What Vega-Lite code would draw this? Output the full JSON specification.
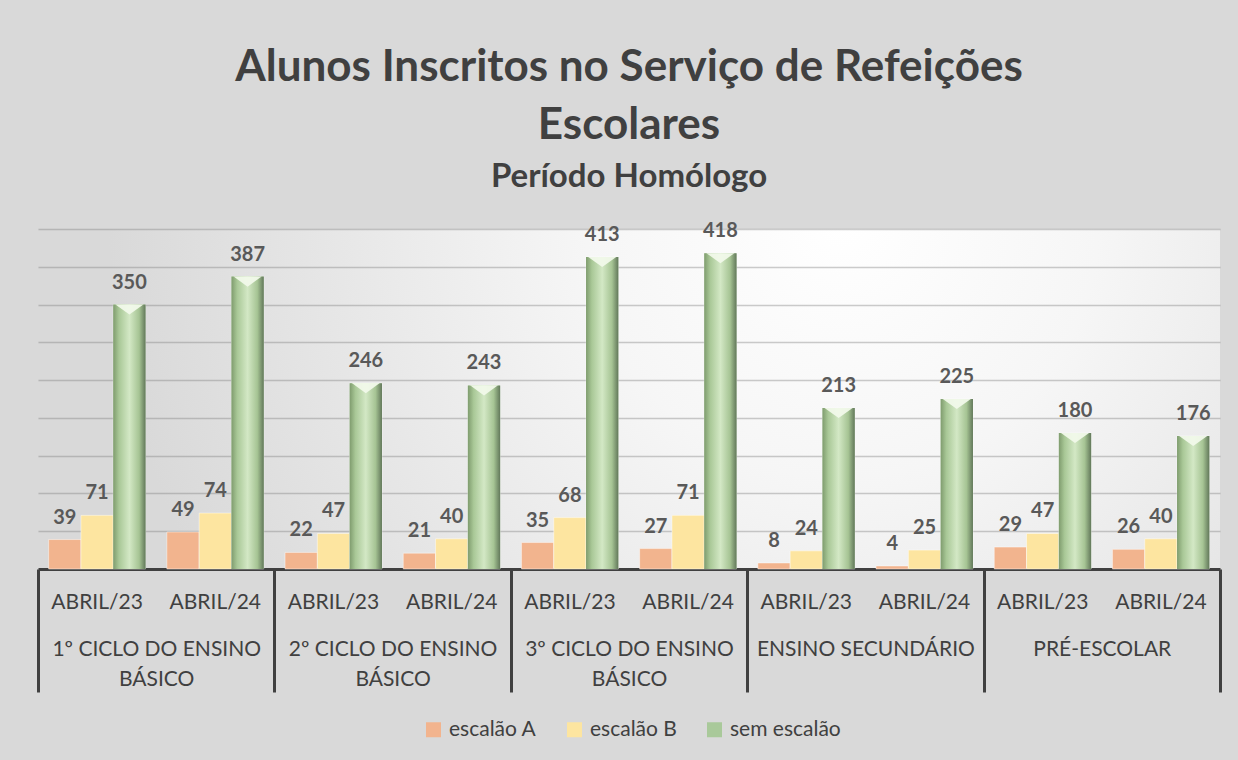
{
  "$schema": "https://vega.github.io/schema/vega-lite/v6.json",
  "width": 1182,
  "height": 340,
  "autosize": {"type": "none"},
  "padding": {"left": 38, "top": 229, "right": 18, "bottom": 191},
  "background": "#d9d9d9",
  "config": {
    "font": "Lato",
    "view": {"stroke": null, "fill": {"gradient": "radial", "x1": 0.68, "y1": 0.35, "r1": 0, "x2": 0.68, "y2": 0.35, "r2": 0.62, "stops": [{"offset": 0, "color": "#ffffff"}, {"offset": 0.35, "color": "#f6f6f6"}, {"offset": 1, "color": "#d9d9d9"}]}}
  },
  "title": {
    "text": ["Alunos Inscritos no Serviço de Refeições", "Escolares"],
    "subtitle": "Período Homólogo",
    "font": "Lato", "fontSize": 44, "fontWeight": "bold", "color": "#404040", "lineHeight": 58,
    "subtitleFont": "Lato", "subtitleFontSize": 33, "subtitleFontWeight": "bold", "subtitleColor": "#404040",
    "subtitlePadding": 13, "offset": 27, "anchor": "middle"
  },
  "data": {"values": [
    {"categoria": "1º CICLO DO ENSINO BÁSICO", "periodo": "ABRIL/23", "slot": "1º CICLO DO ENSINO BÁSICO|ABRIL/23", "serie": "escalão A", "valor": 39},
    {"categoria": "1º CICLO DO ENSINO BÁSICO", "periodo": "ABRIL/23", "slot": "1º CICLO DO ENSINO BÁSICO|ABRIL/23", "serie": "escalão B", "valor": 71},
    {"categoria": "1º CICLO DO ENSINO BÁSICO", "periodo": "ABRIL/23", "slot": "1º CICLO DO ENSINO BÁSICO|ABRIL/23", "serie": "sem escalão", "valor": 350},
    {"categoria": "1º CICLO DO ENSINO BÁSICO", "periodo": "ABRIL/24", "slot": "1º CICLO DO ENSINO BÁSICO|ABRIL/24", "serie": "escalão A", "valor": 49},
    {"categoria": "1º CICLO DO ENSINO BÁSICO", "periodo": "ABRIL/24", "slot": "1º CICLO DO ENSINO BÁSICO|ABRIL/24", "serie": "escalão B", "valor": 74},
    {"categoria": "1º CICLO DO ENSINO BÁSICO", "periodo": "ABRIL/24", "slot": "1º CICLO DO ENSINO BÁSICO|ABRIL/24", "serie": "sem escalão", "valor": 387},
    {"categoria": "2º CICLO DO ENSINO BÁSICO", "periodo": "ABRIL/23", "slot": "2º CICLO DO ENSINO BÁSICO|ABRIL/23", "serie": "escalão A", "valor": 22},
    {"categoria": "2º CICLO DO ENSINO BÁSICO", "periodo": "ABRIL/23", "slot": "2º CICLO DO ENSINO BÁSICO|ABRIL/23", "serie": "escalão B", "valor": 47},
    {"categoria": "2º CICLO DO ENSINO BÁSICO", "periodo": "ABRIL/23", "slot": "2º CICLO DO ENSINO BÁSICO|ABRIL/23", "serie": "sem escalão", "valor": 246},
    {"categoria": "2º CICLO DO ENSINO BÁSICO", "periodo": "ABRIL/24", "slot": "2º CICLO DO ENSINO BÁSICO|ABRIL/24", "serie": "escalão A", "valor": 21},
    {"categoria": "2º CICLO DO ENSINO BÁSICO", "periodo": "ABRIL/24", "slot": "2º CICLO DO ENSINO BÁSICO|ABRIL/24", "serie": "escalão B", "valor": 40},
    {"categoria": "2º CICLO DO ENSINO BÁSICO", "periodo": "ABRIL/24", "slot": "2º CICLO DO ENSINO BÁSICO|ABRIL/24", "serie": "sem escalão", "valor": 243},
    {"categoria": "3º CICLO DO ENSINO BÁSICO", "periodo": "ABRIL/23", "slot": "3º CICLO DO ENSINO BÁSICO|ABRIL/23", "serie": "escalão A", "valor": 35},
    {"categoria": "3º CICLO DO ENSINO BÁSICO", "periodo": "ABRIL/23", "slot": "3º CICLO DO ENSINO BÁSICO|ABRIL/23", "serie": "escalão B", "valor": 68},
    {"categoria": "3º CICLO DO ENSINO BÁSICO", "periodo": "ABRIL/23", "slot": "3º CICLO DO ENSINO BÁSICO|ABRIL/23", "serie": "sem escalão", "valor": 413},
    {"categoria": "3º CICLO DO ENSINO BÁSICO", "periodo": "ABRIL/24", "slot": "3º CICLO DO ENSINO BÁSICO|ABRIL/24", "serie": "escalão A", "valor": 27},
    {"categoria": "3º CICLO DO ENSINO BÁSICO", "periodo": "ABRIL/24", "slot": "3º CICLO DO ENSINO BÁSICO|ABRIL/24", "serie": "escalão B", "valor": 71},
    {"categoria": "3º CICLO DO ENSINO BÁSICO", "periodo": "ABRIL/24", "slot": "3º CICLO DO ENSINO BÁSICO|ABRIL/24", "serie": "sem escalão", "valor": 418},
    {"categoria": "ENSINO SECUNDÁRIO", "periodo": "ABRIL/23", "slot": "ENSINO SECUNDÁRIO|ABRIL/23", "serie": "escalão A", "valor": 8},
    {"categoria": "ENSINO SECUNDÁRIO", "periodo": "ABRIL/23", "slot": "ENSINO SECUNDÁRIO|ABRIL/23", "serie": "escalão B", "valor": 24},
    {"categoria": "ENSINO SECUNDÁRIO", "periodo": "ABRIL/23", "slot": "ENSINO SECUNDÁRIO|ABRIL/23", "serie": "sem escalão", "valor": 213},
    {"categoria": "ENSINO SECUNDÁRIO", "periodo": "ABRIL/24", "slot": "ENSINO SECUNDÁRIO|ABRIL/24", "serie": "escalão A", "valor": 4},
    {"categoria": "ENSINO SECUNDÁRIO", "periodo": "ABRIL/24", "slot": "ENSINO SECUNDÁRIO|ABRIL/24", "serie": "escalão B", "valor": 25},
    {"categoria": "ENSINO SECUNDÁRIO", "periodo": "ABRIL/24", "slot": "ENSINO SECUNDÁRIO|ABRIL/24", "serie": "sem escalão", "valor": 225},
    {"categoria": "PRÉ-ESCOLAR", "periodo": "ABRIL/23", "slot": "PRÉ-ESCOLAR|ABRIL/23", "serie": "escalão A", "valor": 29},
    {"categoria": "PRÉ-ESCOLAR", "periodo": "ABRIL/23", "slot": "PRÉ-ESCOLAR|ABRIL/23", "serie": "escalão B", "valor": 47},
    {"categoria": "PRÉ-ESCOLAR", "periodo": "ABRIL/23", "slot": "PRÉ-ESCOLAR|ABRIL/23", "serie": "sem escalão", "valor": 180},
    {"categoria": "PRÉ-ESCOLAR", "periodo": "ABRIL/24", "slot": "PRÉ-ESCOLAR|ABRIL/24", "serie": "escalão A", "valor": 26},
    {"categoria": "PRÉ-ESCOLAR", "periodo": "ABRIL/24", "slot": "PRÉ-ESCOLAR|ABRIL/24", "serie": "escalão B", "valor": 40},
    {"categoria": "PRÉ-ESCOLAR", "periodo": "ABRIL/24", "slot": "PRÉ-ESCOLAR|ABRIL/24", "serie": "sem escalão", "valor": 176}
  ]},
  "layer": [
    {
      "layer": [
        {
          "mark": {"type": "bar", "stroke": "#ffffff", "strokeOpacity": 0.45, "strokeWidth": 1},
          "encoding": {
            "x": {"field": "slot", "type": "nominal", "sort": null,
              "scale": {"paddingInner": 0.18, "paddingOuter": 0.09},
              "axis": {"title": null, "orient": "bottom", "labelExpr": "split(datum.label, '|')[1]", "ticks": false, "tickSize": 0, "labelPadding": 22, "labelFontSize": 21, "labelFont": "Lato", "labelColor": "#404040", "labelAngle": 0, "labelLimit": 0, "domainColor": "#404040", "domainWidth": 3, "grid": false}},
            "xOffset": {"field": "serie", "type": "nominal", "sort": ["escalão A", "escalão B", "sem escalão"], "scale": {"paddingInner": 0, "paddingOuter": 0}},
            "y": {"field": "valor", "type": "quantitative",
              "scale": {"domain": [0, 450], "nice": false},
              "axis": {"title": null, "labels": false, "ticks": false, "domain": false, "grid": true, "gridColor": "#7f7f7f", "gridOpacity": 0.4, "gridWidth": 1.5, "values": [50, 100, 150, 200, 250, 300, 350, 400, 450]}},
            "color": {"field": "serie", "type": "nominal", "sort": ["escalão A", "escalão B", "sem escalão"],
              "scale": {"domain": ["escalão A", "escalão B", "sem escalão"], "range": ["#f2b48e", "#fde5a0", "#a9c99a"]},
              "legend": {"title": null, "orient": "none", "legendX": 385, "legendY": 490, "direction": "horizontal", "symbolType": "square", "symbolSize": 225, "symbolStrokeWidth": 0, "labelFontSize": 21, "labelFont": "Lato", "labelColor": "#404040", "columnPadding": 27, "labelOffset": 5}}
          }
        },
        {
          "transform": [{"filter": "datum.serie === 'sem escalão'"}],
          "mark": {"type": "bar", "fill": {"gradient": "linear", "x1": 0, "y1": 0, "x2": 1, "y2": 0, "stops": [{"offset": 0, "color": "#7f9c6e"}, {"offset": 0.18, "color": "#a9c897"}, {"offset": 0.5, "color": "#d3e8c5"}, {"offset": 0.8, "color": "#a6c494"}, {"offset": 1, "color": "#62785a"}]}},
          "encoding": {
            "x": {"field": "slot", "type": "nominal", "sort": null},
            "xOffset": {"field": "serie", "type": "nominal", "sort": ["escalão A", "escalão B", "sem escalão"]},
            "y": {"field": "valor", "type": "quantitative"}
          }
        },
        {
          "transform": [{"filter": "datum.serie === 'sem escalão'"}],
          "mark": {"type": "point", "shape": "M-1,-0.36 L1,-0.36 L0,0.36 Z", "size": 784, "filled": true, "fill": "#f1f9ea", "opacity": 0.95, "strokeWidth": 0, "yOffset": 5},
          "encoding": {
            "x": {"field": "slot", "type": "nominal", "sort": null},
            "xOffset": {"field": "serie", "type": "nominal", "sort": ["escalão A", "escalão B", "sem escalão"]},
            "y": {"field": "valor", "type": "quantitative"}
          }
        },
        {
          "mark": {"type": "text", "baseline": "bottom", "dy": -12, "fontSize": 20, "fontWeight": "bold", "font": "Lato", "color": "#595959"},
          "encoding": {
            "x": {"field": "slot", "type": "nominal", "sort": null},
            "xOffset": {"field": "serie", "type": "nominal", "sort": ["escalão A", "escalão B", "sem escalão"]},
            "y": {"field": "valor", "type": "quantitative"},
            "text": {"field": "valor", "type": "quantitative"}
          }
        }
      ]
    },
    {
      "mark": {"type": "point", "opacity": 0},
      "encoding": {
        "x": {"field": "categoria", "type": "nominal", "sort": null,
          "scale": {"type": "band", "paddingInner": 0, "paddingOuter": 0},
          "axis": {"title": null, "orient": "bottom", "domain": false, "ticks": true, "tickBand": "extent", "tickSize": 123, "tickWidth": 3, "tickColor": "#404040", "labelPadding": -54, "labelFontSize": 21, "labelFont": "Lato", "labelColor": "#404040", "labelLineHeight": 30, "labelAngle": 0, "labelLimit": 0, "grid": false,
            "labelExpr": "indexof(datum.label, ' BÁSICO') > 0 ? [replace(datum.label, ' BÁSICO', ''), 'BÁSICO'] : datum.label"}},
        "y": {"field": "valor", "type": "quantitative"}
      }
    }
  ],
  "resolve": {"scale": {"x": "independent"}}
}
